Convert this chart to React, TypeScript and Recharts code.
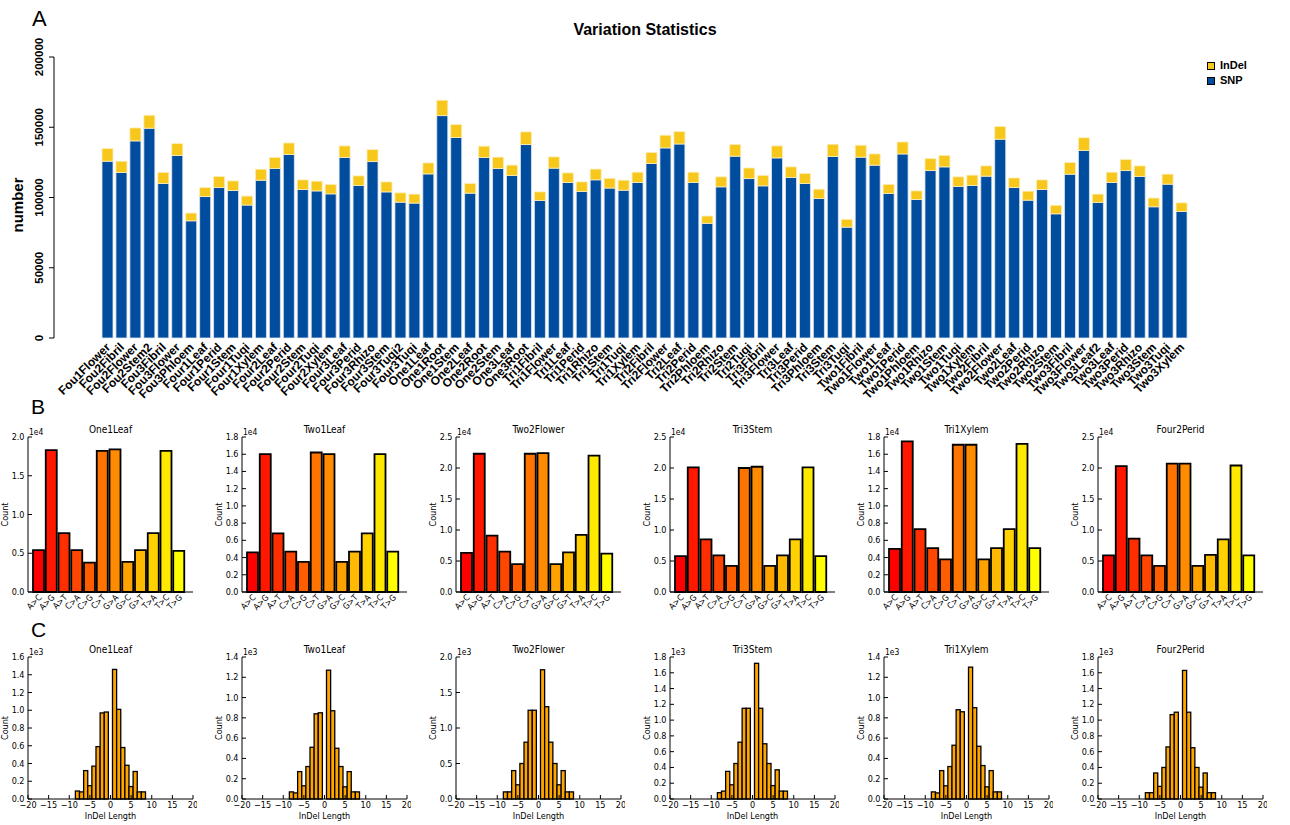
import React from "react";
import { BarChart, Bar, XAxis, YAxis, Legend, Cell } from "recharts";

// ---- A: variant counts per sample ----
const SAMPLES = [
  "Fou1Flower", "Fou2Fibril", "Fou2Flower", "Fou2Stem2", "Fou3Fibril", "Fou3Flower", "Fou3Phloem",
  "Four1Leaf", "Four1Perid", "Four1Stem", "Four1Tuqi", "Four1Xylem",
  "Four2Leaf", "Four2Perid", "Four2Stem", "Four2Tuqi", "Four2Xylem",
  "Four3Leaf", "Four3Perid", "Four3Rhizo", "Four3Stem", "Four3Tuqi2", "Four3Tuqi",
  "One1Leaf", "One1Root", "One1Stem", "One2Leaf", "One2Root", "One2Stem", "One3Leaf", "One3Root",
  "Tri1Fibril", "Tri1Flower", "Tri1Leaf", "Tri1Perid", "Tri1Rhizo", "Tri1Stem", "Tri1Tuqi", "Tri1Xylem",
  "Tri2Fibril", "Tri2Flower", "Tri2Leaf", "Tri2Perid", "Tri2Phloem", "Tri2Rhizo", "Tri2Stem", "Tri2Tuqi",
  "Tri3Fibril", "Tri3Flower", "Tri3Leaf", "Tri3Perid", "Tri3Phloem", "Tri3Stem", "Tri3Tuqi",
  "Two1Fibril", "Two1Flower", "Two1Leaf", "Two1Perid", "Two1Phloem", "Two1Rhizo", "Two1Stem", "Two1Tuqi", "Two1Xylem",
  "Two2Fibril", "Two2Flower", "Two2Leaf", "Two2Perid", "Two2Rhizo", "Two2Stem",
  "Two3Fibril", "Two3Flower", "Two3Leaf2", "Two3Leaf", "Two3Perid", "Two3Rhizo", "Two3Stem", "Two3Tuqi", "Two3Xylem",
];

const SNP_COUNTS = [
  125800, 117800, 140300, 149300, 110000, 129900, 83400,
  100700, 107100, 105000, 94600, 112300,
  120700, 130600, 105700, 104700, 102600,
  128500, 108600, 125600, 104000, 96700, 96000,
  116800, 158300, 142700, 103100, 128500, 120700, 115700, 137700,
  97900, 120900, 110700, 104300, 112600, 106700, 105200, 110700,
  124200, 135300, 138100, 110700, 81600, 107600, 129400, 113500,
  108300, 128200, 114300, 110000, 99300, 129200, 78900,
  128700, 123000, 102900, 131000, 98600, 119200, 121800, 107900, 108600,
  115200, 141500, 107100, 98100, 105700, 88400,
  116600, 133500, 96500, 110700, 119200, 115000, 93400, 109500, 90100,
];

const INDEL_COUNTS = [
  9000, 8000, 9200, 9200, 7800, 8500, 5500,
  6400, 7800, 6800, 6400, 7800,
  7800, 8200, 6800, 6900, 6700,
  8200, 6800, 8500, 7100, 6600, 6400,
  7800, 10900, 9200, 6900, 8000, 8000, 7300, 9000,
  6100, 8000, 6800, 6800, 7600, 6900, 7100, 7300,
  7800, 9000, 8800, 7300, 5200, 7100, 8300, 7500,
  7400, 8500, 7500, 7100, 6600, 8700, 5500,
  8500, 8000, 6400, 8500, 6100, 8500, 8100, 6800, 7300,
  7300, 9000, 6800, 6400, 6800, 6000,
  8300, 9000, 5900, 7300, 7800, 7500, 6200, 7100, 6100,
];

const COUNT_TICKS = [0, 50000, 100000, 150000, 200000];

// ---- B: substitution spectra (x1e4) ----
const SUB_TYPES = ["A>C", "A>G", "A>T", "C>A", "C>G", "C>T", "G>A", "G>C", "G>T", "T>A", "T>C", "T>G"];
const SUB_ONE1LEAF = [0.54, 1.83, 0.76, 0.54, 0.38, 1.82, 1.84, 0.39, 0.54, 0.76, 1.82, 0.53];
const SUB_TWO1LEAF = [0.46, 1.6, 0.68, 0.47, 0.35, 1.62, 1.6, 0.35, 0.47, 0.68, 1.6, 0.47];
const SUB_TWO2FLOWER = [0.63, 2.23, 0.91, 0.65, 0.45, 2.23, 2.24, 0.45, 0.64, 0.92, 2.2, 0.62];
const SUB_TRI3STEM = [0.58, 2.01, 0.85, 0.59, 0.42, 2.0, 2.02, 0.42, 0.59, 0.85, 2.01, 0.58];
const SUB_TRI1XYLEM = [0.5, 1.75, 0.73, 0.51, 0.38, 1.71, 1.71, 0.38, 0.51, 0.73, 1.72, 0.51];
const SUB_FOUR2PERID = [0.59, 2.03, 0.86, 0.59, 0.42, 2.07, 2.07, 0.42, 0.6, 0.85, 2.04, 0.59];

// ---- C: InDel length histograms (x1e3) ----
const INDEL_LENGTHS = [-8, -7, -6, -5, -4, -3, -2, -1, 1, 2, 3, 4, 5, 6, 7, 8];
const LEN_ONE1LEAF = [0.09, 0.08, 0.32, 0.15, 0.37, 0.59, 0.97, 0.98, 1.46, 1.01, 0.58, 0.38, 0.14, 0.31, 0.08, 0.08];
const LEN_TWO1LEAF = [0.07, 0.06, 0.27, 0.13, 0.32, 0.51, 0.84, 0.85, 1.27, 0.87, 0.5, 0.32, 0.12, 0.27, 0.07, 0.07];
const LEN_TWO2FLOWER = [0.1, 0.1, 0.4, 0.2, 0.5, 0.8, 1.25, 1.25, 1.82, 1.3, 0.8, 0.5, 0.2, 0.4, 0.1, 0.1];
const LEN_TRI3STEM = [0.08, 0.1, 0.35, 0.18, 0.45, 0.72, 1.15, 1.15, 1.72, 1.15, 0.7, 0.45, 0.17, 0.37, 0.1, 0.1];
const LEN_TRI1XYLEM = [0.07, 0.06, 0.28, 0.13, 0.32, 0.53, 0.88, 0.86, 1.3, 0.9, 0.52, 0.33, 0.12, 0.28, 0.07, 0.07];
const LEN_FOUR2PERID = [0.08, 0.08, 0.33, 0.16, 0.4, 0.66, 1.07, 1.1, 1.63, 1.1, 0.65, 0.4, 0.15, 0.33, 0.08, 0.08];

const LEN_TICKS = [-20, -15, -10, -5, 0, 5, 10, 15, 20];
const TICKS_14 = [0, 0.2, 0.4, 0.6, 0.8, 1.0, 1.2, 1.4];
const TICKS_16 = [0, 0.2, 0.4, 0.6, 0.8, 1.0, 1.2, 1.4, 1.6];
const TICKS_18 = [0, 0.2, 0.4, 0.6, 0.8, 1.0, 1.2, 1.4, 1.6, 1.8];
const TICKS_20 = [0, 0.5, 1.0, 1.5, 2.0];
const TICKS_25 = [0, 0.5, 1.0, 1.5, 2.0, 2.5];

const SUB_PANELS = [
  { name: "One1Leaf", values: SUB_ONE1LEAF, ticks: TICKS_20 },
  { name: "Two1Leaf", values: SUB_TWO1LEAF, ticks: TICKS_18 },
  { name: "Two2Flower", values: SUB_TWO2FLOWER, ticks: TICKS_25 },
  { name: "Tri3Stem", values: SUB_TRI3STEM, ticks: TICKS_25 },
  { name: "Tri1Xylem", values: SUB_TRI1XYLEM, ticks: TICKS_18 },
  { name: "Four2Perid", values: SUB_FOUR2PERID, ticks: TICKS_25 },
];

const LEN_PANELS = [
  { name: "One1Leaf", values: LEN_ONE1LEAF, ticks: TICKS_16 },
  { name: "Two1Leaf", values: LEN_TWO1LEAF, ticks: TICKS_14 },
  { name: "Two2Flower", values: LEN_TWO2FLOWER, ticks: TICKS_20 },
  { name: "Tri3Stem", values: LEN_TRI3STEM, ticks: TICKS_18 },
  { name: "Tri1Xylem", values: LEN_TRI1XYLEM, ticks: TICKS_14 },
  { name: "Four2Perid", values: LEN_FOUR2PERID, ticks: TICKS_18 },
];

const SANS = "'Liberation Sans', Arial, Helvetica, sans-serif";
const MPL = "'DejaVu Sans Condensed', 'DejaVu Sans', sans-serif";
const SNP_BLUE = "#004c9f";
const INDEL_YELLOW = "#f7c71c";
const HIST_ORANGE = "#ffa500";
// autumn colormap, red -> yellow
const SUB_COLORS = [
  "#ff0000", "#ff1700", "#ff2e00", "#ff4600", "#ff5d00", "#ff7400",
  "#ff8b00", "#ffa200", "#ffb900", "#ffd100", "#ffe800", "#ffff00",
];

const PANEL_LEFTS = [28, 242, 456, 670, 884, 1098];
const PLOT_W = 165;

// ---------- panel A ----------
const SampleTick = ({ x, y, payload }: any) => {
  const ax = x + 3;
  const ay = y + 10;
  return (
    <text x={ax} y={ay} textAnchor="end" transform={`rotate(-45 ${ax} ${ay})`}
      fontSize={12} fontWeight="bold" fontFamily={SANS} fill="#000">
      {payload.value}
    </text>
  );
};

const CountTick = ({ x, y, payload }: any) => (
  <text x={x - 4} y={y} textAnchor="middle" transform={`rotate(-90 ${x - 4} ${y})`}
    fontSize={11.5} fontWeight="bold" fontFamily={SANS} fill="#000">
    {payload.value}
  </text>
);

const VariantLegend = () => (
  <div style={{ fontFamily: SANS, fontWeight: "bold", fontSize: 11, lineHeight: "15px" }}>
    {[{ label: "InDel", color: INDEL_YELLOW }, { label: "SNP", color: SNP_BLUE }].map((it) => (
      <div key={it.label} style={{ display: "flex", alignItems: "center" }}>
        <span style={{ display: "inline-block", width: 6, height: 6, background: it.color, border: "1px solid #000", marginRight: 5 }} />
        {it.label}
      </div>
    ))}
  </div>
);

function VariationChart() {
  const data = SAMPLES.map((s, i) => ({ name: s, SNP: SNP_COUNTS[i], InDel: INDEL_COUNTS[i] }));
  return (
    <div style={{ position: "absolute", left: 0, top: 0 }}>
      <BarChart width={1290} height={420} data={data} margin={{ top: 57, right: 101, bottom: 0, left: 0 }}>
        <XAxis dataKey="name" interval={0} height={82} axisLine={false} tickLine={false}
          tickSize={0} tickMargin={0} padding={{ left: 47, right: 0 }} tick={<SampleTick />} />
        <YAxis domain={[0, 200000]} ticks={COUNT_TICKS} interval={0} width={54} tickSize={5} tickMargin={2}
          axisLine={{ stroke: "#000" }} tickLine={{ stroke: "#000" }} tick={<CountTick />} />
        <Legend layout="vertical" align="center" verticalAlign="middle" content={<VariantLegend />}
          wrapperStyle={{ left: 1207, top: 58, width: 80, height: 32 }} />
        <Bar dataKey="SNP" stackId="v" barSize={11} fill={SNP_BLUE} stroke="#dfe6f0" strokeWidth={0.8} isAnimationActive={false} />
        <Bar dataKey="InDel" stackId="v" barSize={11} fill={INDEL_YELLOW} stroke="#fbeeb8" strokeWidth={0.8} isAnimationActive={false} />
      </BarChart>
    </div>
  );
}

// ---------- shared small-panel ticks ----------
const LeftTick = ({ x, y, payload }: any) => (
  <g>
    <line x1={x + 3} x2={x + 7} y1={y} y2={y} stroke="#000" strokeWidth={1} />
    <text x={x - 0.5} y={y + 3} textAnchor="end" fontSize={9} fontFamily={MPL} fill="#000">
      {Number(payload.value).toFixed(1)}
    </text>
  </g>
);

const RightTick = ({ x, y }: any) => (
  <line x1={x - 4} x2={x} y1={y} y2={y} stroke="#000" strokeWidth={1} />
);

const SubTick = ({ x, y, payload }: any) => {
  const ax = x + 4;
  const ay = y + 6;
  return (
    <text x={ax} y={ay} textAnchor="end" transform={`rotate(-45 ${ax} ${ay})`}
      fontSize={8.5} fontFamily={MPL} fill="#000">
      {payload.value}
    </text>
  );
};

const LenTick = ({ x, y, payload }: any) => (
  <g>
    <line x1={x} x2={x} y1={y - 4} y2={y} stroke="#000" strokeWidth={1} />
    <text x={x} y={y + 9} textAnchor="middle" fontSize={9} fontFamily={MPL} fill="#000">
      {String(payload.value).replace("-", "\u2212")}
    </text>
  </g>
);

const TopTick = ({ x, y }: any) => (
  <line x1={x} x2={x} y1={y} y2={y + 4} stroke="#000" strokeWidth={1} />
);

const HistBar = (props: any) => {
  const { x, y, width, height } = props;
  if (!height || height <= 0) return null;
  const w = PLOT_W / 40;
  const cx = x + width / 2;
  return <rect x={cx - w / 2} y={y} width={w} height={height} fill={HIST_ORANGE} stroke="#000" strokeWidth={1.3} />;
};

function PanelText({ name, offset, w, h, top, bottom, xlabel }: any) {
  const mid = 32 + PLOT_W / 2;
  return (
    <svg width={w} height={h} style={{ position: "absolute", left: 0, top: 0, pointerEvents: "none" }}>
      <text x={mid} y={top - 4} textAnchor="middle" fontSize={10} fontFamily={MPL}>{name}</text>
      <text x={33} y={top - 2} fontSize={8.5} fontFamily={MPL}>{offset}</text>
      <text x={12} y={(top + bottom) / 2} textAnchor="middle" transform={`rotate(-90 12 ${(top + bottom) / 2})`}
        fontSize={9} fontFamily={MPL}>Count</text>
      {xlabel && (
        <text x={mid} y={h - 4} textAnchor="middle" fontSize={9} fontFamily={MPL}>{xlabel}</text>
      )}
    </svg>
  );
}

// ---------- panel B ----------
function SubPanel({ name, values, ticks, left }: any) {
  const data = SUB_TYPES.map((t, i) => ({ type: t, count: values[i] }));
  const max = ticks[ticks.length - 1];
  const W = 32 + PLOT_W + 4;
  const H = 17 + 155 + 30;
  return (
    <div style={{ position: "absolute", left: left - 32, top: 420, width: W, height: H }}>
      <BarChart width={W} height={H} data={data} margin={{ top: 17, right: 4, bottom: 0, left: 0 }}>
        <XAxis dataKey="type" interval={0} height={30} axisLine={{ stroke: "#000" }} tickLine={false}
          tickSize={0} tickMargin={0} padding={{ left: 4, right: 8 }} tick={<SubTick />} />
        <XAxis xAxisId="top" dataKey="type" orientation="top" height={0} axisLine={{ stroke: "#000" }}
          tick={false} tickLine={false} />
        <YAxis domain={[0, max]} ticks={ticks} interval={0} width={32} axisLine={{ stroke: "#000" }} tickLine={false}
          tickSize={0} tickMargin={3} tick={<LeftTick />} />
        <YAxis yAxisId="right" orientation="right" domain={[0, max]} ticks={ticks} interval={0} width={0}
          axisLine={{ stroke: "#000" }} tickLine={false} tickSize={0} tickMargin={0} tick={<RightTick />} />
        <Bar dataKey="count" barSize={11} stroke="#000" strokeWidth={1.8} isAnimationActive={false}>
          {data.map((d, i) => (
            <Cell key={d.type} fill={SUB_COLORS[i]} />
          ))}
        </Bar>
      </BarChart>
      <PanelText name={name} offset="1e4" w={W} h={H} top={17} bottom={172} />
    </div>
  );
}

// ---------- panel C ----------
function LenPanel({ name, values, ticks, left }: any) {
  const data = INDEL_LENGTHS.map((len, i) => ({ len, count: values[i] }));
  const max = ticks[ticks.length - 1];
  const W = 32 + PLOT_W + 4;
  const H = 17 + 142 + 24;
  return (
    <div style={{ position: "absolute", left: left - 32, top: 640, width: W, height: H }}>
      <BarChart width={W} height={H} data={data} margin={{ top: 17, right: 4, bottom: 0, left: 0 }}>
        <XAxis type="number" dataKey="len" domain={[-20, 20]} ticks={LEN_TICKS} interval={0} height={24}
          axisLine={{ stroke: "#000" }} tickLine={false} tickSize={0} tickMargin={0} tick={<LenTick />} allowDataOverflow />
        <XAxis xAxisId="top" type="number" dataKey="len" orientation="top" domain={[-20, 20]} ticks={LEN_TICKS} interval={0}
          height={0} axisLine={{ stroke: "#000" }} tickLine={false} tickSize={0} tickMargin={0} tick={<TopTick />} allowDataOverflow />
        <YAxis domain={[0, max]} ticks={ticks} interval={0} width={32} axisLine={{ stroke: "#000" }} tickLine={false}
          tickSize={0} tickMargin={3} tick={<LeftTick />} />
        <YAxis yAxisId="right" orientation="right" domain={[0, max]} ticks={ticks} interval={0} width={0}
          axisLine={{ stroke: "#000" }} tickLine={false} tickSize={0} tickMargin={0} tick={<RightTick />} />
        <Bar dataKey="count" barSize={4} shape={<HistBar />} isAnimationActive={false} />
      </BarChart>
      <PanelText name={name} offset="1e3" w={W} h={H} top={17} bottom={159} xlabel="InDel Length" />
    </div>
  );
}

export default function App() {
  return (
    <div style={{ position: "absolute", left: 0, top: 0, width: 1290, height: 825, overflow: "hidden", background: "#fff" }}>
      <VariationChart />
      {SUB_PANELS.map((p, i) => (
        <SubPanel key={p.name} name={p.name} values={p.values} ticks={p.ticks} left={PANEL_LEFTS[i]} />
      ))}
      {LEN_PANELS.map((p, i) => (
        <LenPanel key={p.name} name={p.name} values={p.values} ticks={p.ticks} left={PANEL_LEFTS[i]} />
      ))}
      <svg width={1290} height={825} style={{ position: "absolute", left: 0, top: 0, pointerEvents: "none" }}>
        <text x={32} y={26} fontSize={22} fontFamily={SANS} fontWeight={300}>A</text>
        <text x={31} y={414} fontSize={21} fontFamily={SANS} fontWeight={300}>B</text>
        <text x={31} y={637} fontSize={21} fontFamily={SANS} fontWeight={300}>C</text>
        <text x={645} y={35} textAnchor="middle" fontSize={16} fontWeight="bold" fontFamily={SANS}>Variation Statistics</text>
        <text x={23} y={205} textAnchor="middle" transform="rotate(-90 23 205)" fontSize={15} fontWeight="bold" fontFamily={SANS}>number</text>
      </svg>
    </div>
  );
}
